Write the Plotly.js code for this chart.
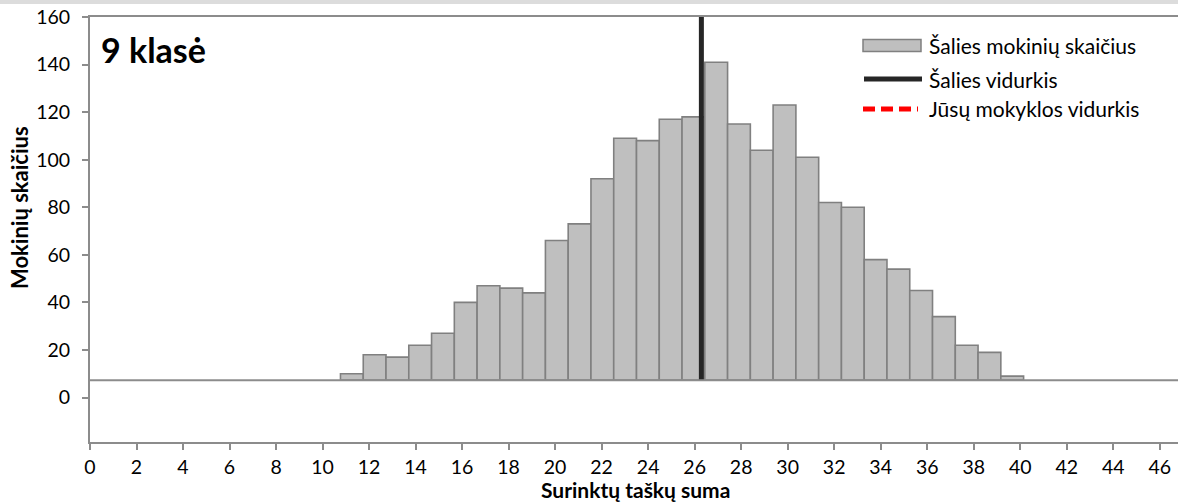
<!DOCTYPE html>
<html>
<head>
<meta charset="utf-8">
<script src="https://cdn.plot.ly/plotly-3.0.1.min.js"></script>
<style>
html,body{margin:0;padding:0;overflow:hidden;background:#fff;}
#chart{width:1183px;height:503px;}
</style>
</head>
<body>
<div id="chart"></div>
<script>
// Data
const scores = [11,12,13,14,15,16,17,18,19,20,21,22,23,24,25,26,27,28,29,30,31,32,33,34,35,36,37,38,39,40];
const counts = [10,18,17,22,27,40,47,46,44,66,73,92,109,108,117,118,141,115,104,123,101,82,80,58,54,45,34,22,19,9];
const nationalMean = 26.29;
const xTicks = [0,2,4,6,8,10,12,14,16,18,20,22,24,26,28,30,32,34,36,38,40,42,44,46];
const yTicks = [0,20,40,60,80,100,120,140,160];
const gridTicks = [20,40,60,80,100,120,140];
const seriesNames = ["Šalies mokinių skaičius","Šalies vidurkis","Jūsų mokyklos vidurkis"];
const panelTitle = "9 klasė";
const xTitle = "Surinktų taškų suma";
const yTitle = "Mokinių skaičius";

const BASE = 7.3;
const YR = [-18.7, 160];
const FONT = "Lato, 'Open Sans', sans-serif";

// plot-area pixel geometry helpers (for legend / title placement)
const PL = 90, PW = 1093, PT = 17, PH = 425;
const px = v => (v - PL) / PW;
const py = v => (PT + PH - v) / PH;

const traces = [
  {
    type: 'bar', x: scores, y: counts.map(v => v - BASE), base: BASE,
    xaxis: 'x', yaxis: 'y',
    name: seriesNames[0], width: 1,
    marker: {color: '#bfbfbf', line: {color: '#808080', width: 1.6}},
    hoverinfo: 'skip', showlegend: false
  },
  {
    type: 'scatter', mode: 'lines', x: [nationalMean, nationalMean], y: [BASE, YR[1]],
    xaxis: 'x2', yaxis: 'y',
    name: seriesNames[1], line: {color: '#262626', width: 5}, hoverinfo: 'skip', showlegend: false
  },
  {
    type: 'scatter', mode: 'lines', x: [null], y: [null],
    xaxis: 'x2', yaxis: 'y',
    name: seriesNames[2], line: {color: '#ff0000', width: 5, dash: '12px,6px'}, hoverinfo: 'skip', showlegend: false
  }
];

const legendRows = [py(45), py(79), py(109)];
const shapes = [
  {type: 'line', xref: 'paper', yref: 'y', x0: 0, x1: 1, y0: BASE, y1: BASE,
   line: {color: '#8c8c8c', width: 2}, layer: 'above'},
  {type: 'rect', xref: 'paper', yref: 'paper', x0: -0.1, x1: 1.1, y0: 1 + 13/425, y1: 1 + 17/425,
   fillcolor: '#dcdcdc', line: {width: 0}},
  // legend swatches
  {type: 'rect', xref: 'paper', yref: 'paper', x0: px(863), x1: px(921), y0: py(51.5), y1: py(39.5),
   fillcolor: '#bfbfbf', line: {color: '#808080', width: 1.5}, layer: 'above'},
  {type: 'line', xref: 'paper', yref: 'paper', x0: px(864), x1: px(922), y0: legendRows[1], y1: legendRows[1],
   line: {color: '#262626', width: 5}, layer: 'above'},
  {type: 'line', xref: 'paper', yref: 'paper', x0: px(863), x1: px(918), y0: legendRows[2], y1: legendRows[2],
   line: {color: '#ff0000', width: 5, dash: '12px,6px'}, layer: 'above'}
];

const annotations = [
  {text: '<b>' + panelTitle + '</b>', xref: 'paper', yref: 'paper', x: px(99), y: py(50),
   xanchor: 'left', yanchor: 'middle', showarrow: false,
   font: {family: FONT, size: 34, color: '#000'}},
  {text: '<b>' + xTitle + '</b>', xref: 'paper', yref: 'paper', x: px(635), y: py(503),
   xanchor: 'center', yanchor: 'bottom', showarrow: false, borderpad: 0,
   font: {family: FONT, size: 21, color: '#000'}},
  {text: '<b>' + yTitle + '</b>', xref: 'paper', yref: 'paper', x: px(19), y: py(208),
   xanchor: 'center', yanchor: 'middle', showarrow: false, textangle: -90,
   font: {family: FONT, size: 22, color: '#000'}}
];
seriesNames.forEach((n, i) => annotations.push({
  text: n, xref: 'paper', yref: 'paper', x: px(927), y: legendRows[i],
  xanchor: 'left', yanchor: 'middle', showarrow: false,
  font: {family: FONT, size: 21, color: '#000'}
}));

const layout = {
  width: 1183, height: 503,
  margin: {l: 90, r: 0, t: 17, b: 61},
  paper_bgcolor: '#ffffff', plot_bgcolor: '#ffffff',
  font: {family: FONT, color: '#000', size: 20},
  showlegend: false,
  bargap: 0,
  xaxis: {
    range: [-0.5, 47.5], visible: false, showgrid: false, zeroline: false
  },
  xaxis2: {
    overlaying: 'x', side: 'bottom',
    range: [0, 47], tickvals: xTicks, ticktext: xTicks.map(String),
    showgrid: false, zeroline: false,
    showline: true, linecolor: '#8c8c8c', linewidth: 2, mirror: true,
    ticks: 'outside', ticklen: 6, tickcolor: '#8c8c8c', tickwidth: 2,
    ticklabelstandoff: 1,
    tickfont: {family: FONT, size: 19.5, color: '#000'}
  },
  yaxis: {
    range: YR, tickvals: yTicks, ticktext: yTicks.map(String),
    showgrid: false, zeroline: false,
    showline: true, linecolor: '#8c8c8c', linewidth: 2, mirror: true,
    ticks: 'outside', ticklen: 6, tickcolor: '#8c8c8c', tickwidth: 2,
    ticklabelstandoff: 8,
    tickfont: {family: FONT, size: 19.5, color: '#000'}
  },
  yaxis2: {
    range: YR, overlaying: 'y', tickvals: gridTicks, showticklabels: false, ticks: '',
    showgrid: true, gridcolor: '#d9d9d9', gridwidth: 1.5, griddash: 'dash', zeroline: false, showline: false
  },
  shapes: shapes,
  annotations: annotations
};

Plotly.newPlot('chart', traces, layout, {displayModeBar: false, staticPlot: true});
</script>
</body>
</html>
